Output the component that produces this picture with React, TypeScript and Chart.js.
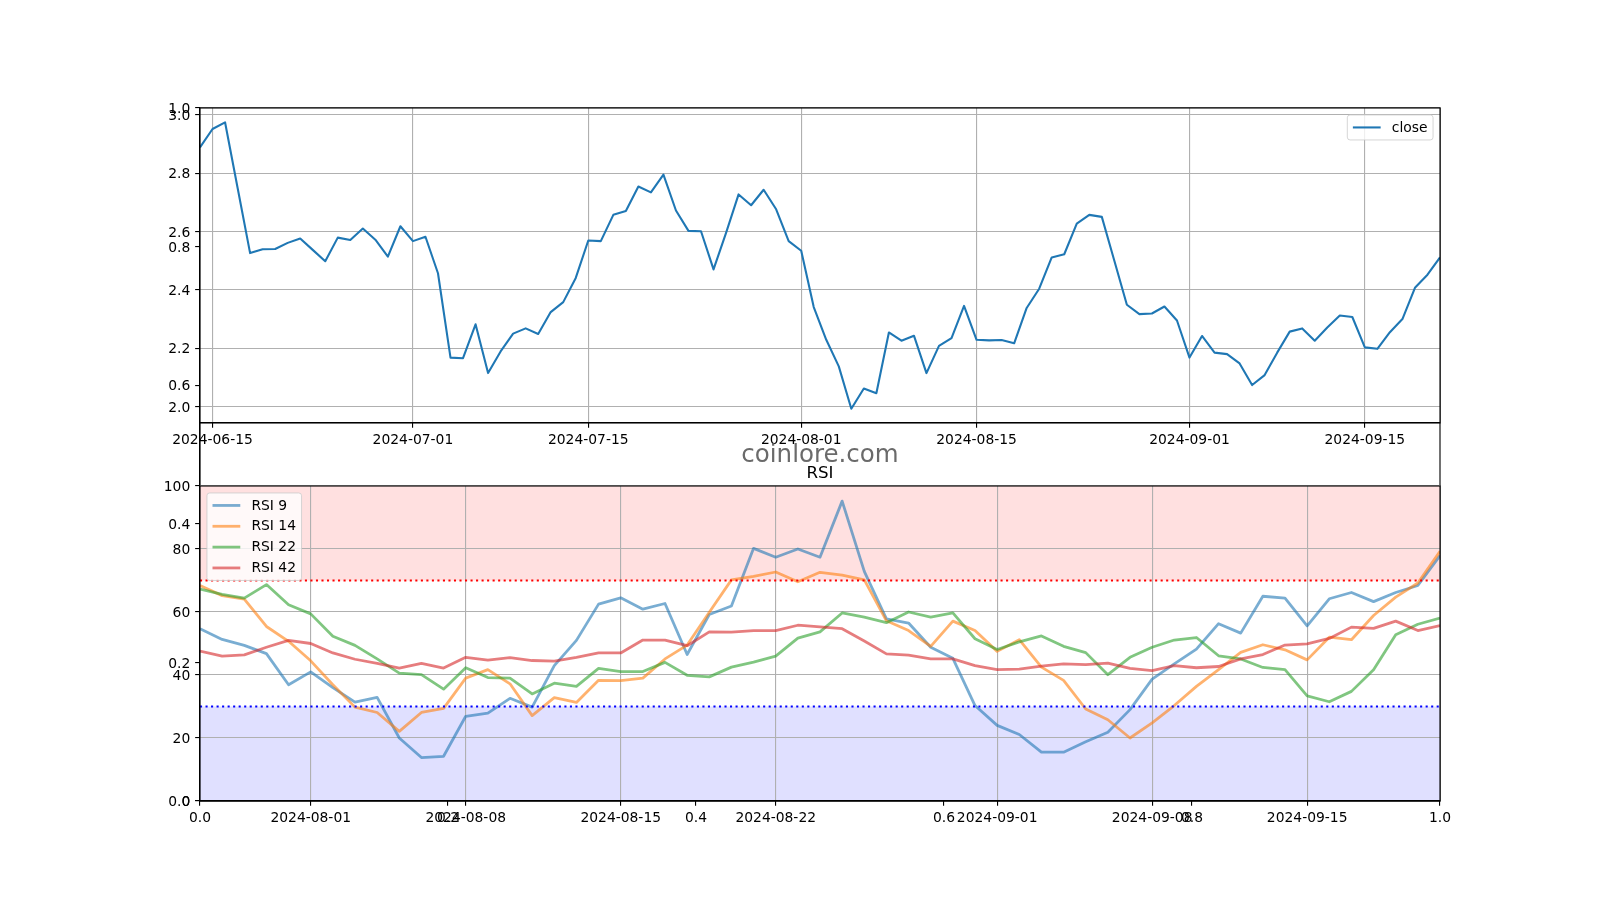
import React, { useEffect, useRef } from 'react';
import { Chart, registerables } from 'chart.js';

Chart.register(...registerables);

// ---------------- data ----------------
const priceStartDate = '2024-06-14';
const closePrices = [
  2.888, 2.951, 2.974, 2.75, 2.526, 2.539, 2.540, 2.561, 2.576, 2.537,
  2.498, 2.579, 2.571, 2.610, 2.572, 2.514, 2.618, 2.567, 2.582, 2.457,
  2.168, 2.166, 2.282, 2.115, 2.189, 2.250, 2.268, 2.249, 2.324, 2.358,
  2.441, 2.569, 2.567, 2.657, 2.670, 2.754, 2.734, 2.795, 2.672, 2.602,
  2.601, 2.470, 2.595, 2.727, 2.690, 2.743, 2.676, 2.567, 2.534, 2.341,
  2.229, 2.138, 1.993, 2.062, 2.046, 2.254, 2.226, 2.243, 2.115, 2.208,
  2.235, 2.345, 2.229, 2.227, 2.228, 2.217, 2.338, 2.404, 2.511, 2.522,
  2.627, 2.657, 2.650, 2.500, 2.349, 2.317, 2.319, 2.343, 2.295, 2.168,
  2.242, 2.185, 2.180, 2.148, 2.074, 2.108, 2.185, 2.257, 2.268, 2.226,
  2.271, 2.312, 2.307, 2.203, 2.198, 2.255, 2.300, 2.407, 2.452, 2.511,
];
const priceDateTicks = ['2024-06-15', '2024-07-01', '2024-07-15', '2024-08-01', '2024-08-15', '2024-09-01', '2024-09-15'];
const priceValueTicks = [2.0, 2.2, 2.4, 2.6, 2.8, 3.0];

const rsiStartDate = '2024-07-27';
const rsi9 = [
  54.7, 51.3, 49.4, 46.8, 36.9, 41.0, 36.0, 31.4, 32.9, 20.0, 13.8, 14.2, 26.9, 27.9, 32.6, 29.8, 43.0, 51.0, 62.5, 64.5, 60.9,
  62.7, 46.5, 59.2, 61.9, 80.2, 77.4, 80.0, 77.4, 95.2, 72.9, 57.8, 56.5, 48.8, 45.3, 30.3, 24.0, 21.1, 15.5, 15.5, 18.8, 21.8, 29.0,
  38.7, 43.5, 48.2, 56.3, 53.3, 65.0, 64.4, 55.6, 64.2, 66.2, 63.3, 66.2, 68.4, 77.9,
];
const rsi14 = [
  68.4, 65.2, 64.1, 55.4, 50.7, 44.5, 36.9, 29.8, 28.1, 22.1, 28.1, 29.4, 39.0, 41.7, 37.2, 27.1, 32.8, 31.3, 38.3, 38.2, 39.0,
  45.1, 49.5, 59.9, 70.2, 71.3, 72.7, 69.6, 72.6, 71.7, 70.2, 57.2, 54.1, 49.1, 57.1, 54.1, 47.5, 51.2, 42.5, 38.3, 29.2, 25.8, 20.0,
  24.8, 30.3, 36.4, 41.7, 47.2, 49.6, 48.0, 44.8, 52.0, 51.2, 58.9, 64.7, 69.2, 79.3,
];
const rsi22 = [
  67.3, 65.6, 64.4, 68.7, 62.3, 59.4, 52.3, 49.4, 45.1, 40.6, 40.1, 35.5, 42.3, 39.2, 39.0, 34.0, 37.4, 36.4, 42.1, 41.1, 41.1,
  44.0, 39.9, 39.4, 42.5, 44.1, 46.0, 51.7, 53.7, 59.7, 58.4, 56.6, 60.0, 58.4, 59.7, 51.5, 48.1, 50.5, 52.4, 49.1, 47.1, 40.1, 45.6,
  48.8, 51.1, 51.9, 46.1, 45.1, 42.4, 41.7, 33.4, 31.5, 34.8, 41.7, 52.8, 56.1, 58.1,
];
const rsi42 = [
  47.6, 46.0, 46.4, 48.8, 51.0, 50.0, 47.0, 45.0, 43.7, 42.2, 43.7, 42.2, 45.6, 44.7, 45.5, 44.6, 44.4, 45.6, 47.0, 47.0, 51.1,
  51.1, 49.3, 53.7, 53.6, 54.1, 54.1, 55.8, 55.3, 54.7, 50.8, 46.7, 46.3, 45.1, 45.1, 43.0, 41.7, 41.9, 42.8, 43.5, 43.3, 43.8, 42.1,
  41.4, 43.0, 42.3, 42.7, 45.1, 46.5, 49.5, 49.9, 51.6, 55.2, 54.8, 57.1, 54.1, 55.7,
];
const rsiLabels = ['RSI 9', 'RSI 14', 'RSI 22', 'RSI 42'];
const rsiDateTicks = ['2024-08-01', '2024-08-08', '2024-08-15', '2024-08-22', '2024-09-01', '2024-09-08', '2024-09-15'];
const rsiValueTicks = [0, 20, 40, 60, 80, 100];
const rsiRange = [0, 100];
const rsiOverbought = 70;
const rsiOversold = 30;

const overlayTicks = [0, 0.2, 0.4, 0.6, 0.8, 1.0];

const watermarkText = 'coinlore.com';
const rsiTitle = 'RSI';

// ---------------- helpers ----------------
const DAY_MS = 86400000;
const toDay = (s: string) => {
  const [y, m, d] = s.split('-').map(Number);
  return Date.UTC(y, m - 1, d) / DAY_MS;
};
const fmtDay = (v: number) => new Date(Math.round(v) * DAY_MS).toISOString().slice(0, 10);
const toPoints = (start: string, values: number[]) => values.map((y, i) => ({ x: toDay(start) + i, y }));

// ---------------- layout / style ----------------
const W = 1600;
const H = 900;
const PLOT_L = 200;
const PLOT_R = 1440;
const PRICE_T = 108;
const PRICE_B = 423;
const RSI_T = 486;
const RSI_B = 801;
const PT = 100 / 72;
const FONT_SIZE = 10 * PT;
const FAMILY = "'DejaVu Sans', sans-serif";
const TICK_LEN = 3.5 * PT;
const TICK_PAD = 3.5 * PT;
const SPINE_W = 0.8 * PT;

const C_BLUE = '#1f77b4';
const RSI_COLORS = ['rgba(31,119,180,0.6)', 'rgba(255,127,14,0.6)', 'rgba(44,160,44,0.6)', 'rgba(214,39,40,0.6)'];

Chart.defaults.font.family = FAMILY;
Chart.defaults.font.size = FONT_SIZE;
Chart.defaults.color = '#000';

function axisOpts(showGrid: boolean, isY: boolean) {
  return {
    grid: {
      display: true,
      drawOnChartArea: showGrid,
      color: '#b0b0b0',
      lineWidth: SPINE_W,
      tickColor: '#000',
      tickWidth: SPINE_W,
      tickLength: TICK_LEN,
      drawTicks: true,
    },
    border: { display: true, color: '#000', width: SPINE_W },
    ticks: {
      padding: isY ? TICK_PAD : TICK_PAD - 1,
      labelOffset: isY ? 1.5 : 0,
      color: '#000',
      font: { family: FAMILY, size: FONT_SIZE },
      autoSkip: false,
      maxRotation: 0,
      minRotation: 0,
    },
  };
}

function makeScales(
  top: number,
  bottom: number,
  x: { min: number; max: number; ticks: number[]; fmt: (v: number) => string; grid: boolean },
  y: { min: number; max: number; ticks: number[]; fmt: (v: number) => string; grid: boolean },
) {
  const xa: any = axisOpts(x.grid, false);
  const ya: any = axisOpts(y.grid, true);
  return {
    layout: { padding: { left: 0, top, right: W - PLOT_R, bottom: 0 } },
    scales: {
      x: {
        type: 'linear',
        position: 'bottom',
        min: x.min,
        max: x.max,
        ...xa,
        ticks: { ...xa.ticks, callback: (v: number) => x.fmt(v) },
        afterBuildTicks: (s: any) => { s.ticks = x.ticks.map((v) => ({ value: v })); },
        afterFit: (s: any) => { s.height = H - bottom; },
      },
      y: {
        type: 'linear',
        position: 'left',
        min: y.min,
        max: y.max,
        ...ya,
        ticks: { ...ya.ticks, callback: (v: number) => y.fmt(v) },
        afterBuildTicks: (s: any) => { s.ticks = y.ticks.map((v) => ({ value: v })); },
        afterFit: (s: any) => { s.width = PLOT_L; },
      },
    },
  };
}

function drawFrame(chart: any) {
  const { ctx, chartArea: a } = chart;
  ctx.save();
  ctx.strokeStyle = '#000';
  ctx.lineWidth = SPINE_W;
  ctx.strokeRect(a.left, a.top, a.right - a.left, a.bottom - a.top);
  ctx.restore();
}

function drawLegend(chart: any, items: { label: string; color: string; width: number }[], corner: 'ul' | 'ur') {
  const { ctx, chartArea: a } = chart;
  const f = FONT_SIZE;
  const bp = 0.4 * f, ls = 0.5 * f, hl = 2 * f, htp = 0.8 * f, bap = 0.5 * f;
  ctx.save();
  ctx.font = `${f}px ${FAMILY}`;
  const tw = Math.max(...items.map((it) => ctx.measureText(it.label).width));
  const rowH = f;
  const w = 2 * bp + hl + htp + tw;
  const h = 2 * bp + items.length * rowH + (items.length - 1) * ls;
  const x0 = corner === 'ul' ? a.left + bap : a.right - bap - w;
  const y0 = a.top + bap;
  const r = 0.2 * f;
  ctx.beginPath();
  ctx.moveTo(x0 + r, y0);
  ctx.lineTo(x0 + w - r, y0);
  ctx.quadraticCurveTo(x0 + w, y0, x0 + w, y0 + r);
  ctx.lineTo(x0 + w, y0 + h - r);
  ctx.quadraticCurveTo(x0 + w, y0 + h, x0 + w - r, y0 + h);
  ctx.lineTo(x0 + r, y0 + h);
  ctx.quadraticCurveTo(x0, y0 + h, x0, y0 + h - r);
  ctx.lineTo(x0, y0 + r);
  ctx.quadraticCurveTo(x0, y0, x0 + r, y0);
  ctx.closePath();
  ctx.fillStyle = 'rgba(255,255,255,0.8)';
  ctx.fill();
  ctx.strokeStyle = 'rgba(204,204,204,0.8)';
  ctx.lineWidth = 1;
  ctx.stroke();
  items.forEach((it, i) => {
    const cy = y0 + bp + i * (rowH + ls) + rowH / 2;
    ctx.beginPath();
    ctx.moveTo(x0 + bp, cy);
    ctx.lineTo(x0 + bp + hl, cy);
    ctx.strokeStyle = it.color;
    ctx.lineWidth = it.width;
    ctx.stroke();
    ctx.fillStyle = '#000';
    ctx.textBaseline = 'middle';
    ctx.textAlign = 'left';
    ctx.fillText(it.label, x0 + bp + hl + htp, cy + 0.5);
  });
  ctx.restore();
}

function whiteArea(chart: any) {
  const { ctx, chartArea: a } = chart;
  ctx.save();
  ctx.fillStyle = '#fff';
  ctx.fillRect(a.left, a.top, a.right - a.left, a.bottom - a.top);
  ctx.restore();
}

// ---------------- component ----------------
export default function App() {
  const bgRef = useRef<HTMLCanvasElement>(null);
  const priceRef = useRef<HTMLCanvasElement>(null);
  const rsiRef = useRef<HTMLCanvasElement>(null);

  useEffect(() => {
    const charts: Chart[] = [];

    // background (figure-level) axes 0..1
    const bgCfg = makeScales(
      PRICE_T,
      RSI_B,
      { min: 0, max: 1, ticks: overlayTicks, fmt: (v) => v.toFixed(1), grid: false },
      { min: 0, max: 1, ticks: overlayTicks, fmt: (v) => v.toFixed(1), grid: false },
    );
    charts.push(
      new Chart(bgRef.current!, {
        type: 'line',
        data: { datasets: [] },
        options: {
          responsive: false,
          animation: false,
          devicePixelRatio: 1,
          layout: bgCfg.layout,
          scales: bgCfg.scales as any,
          plugins: { legend: { display: false }, tooltip: { enabled: false } },
        },
        plugins: [{ id: 'bgframe', afterDraw: (c: any) => drawFrame(c) }],
      } as any),
    );

    // price chart
    const pDays = closePrices.map((_, i) => toDay(priceStartDate) + i);
    const pMin = Math.min(...closePrices);
    const pMax = Math.max(...closePrices);
    const pPad = (pMax - pMin) * 0.05;
    const priceCfg = makeScales(
      PRICE_T,
      PRICE_B,
      { min: pDays[0], max: pDays[pDays.length - 1], ticks: priceDateTicks.map(toDay), fmt: fmtDay, grid: true },
      { min: pMin - pPad, max: pMax + pPad, ticks: priceValueTicks, fmt: (v) => v.toFixed(1), grid: true },
    );
    charts.push(
      new Chart(priceRef.current!, {
        type: 'line',
        data: {
          datasets: [
            {
              label: 'close',
              data: toPoints(priceStartDate, closePrices),
              borderColor: C_BLUE,
              borderWidth: 1.5 * PT,
              pointRadius: 0,
              tension: 0,
              fill: false,
              borderJoinStyle: 'round',
            },
          ],
        },
        options: {
          responsive: false,
          animation: false,
          devicePixelRatio: 1,
          layout: priceCfg.layout,
          scales: priceCfg.scales as any,
          plugins: { legend: { display: false }, tooltip: { enabled: false } },
        },
        plugins: [
          {
            id: 'pdeco',
            beforeDraw: (c: any) => whiteArea(c),
            afterDatasetsDraw: (c: any) => drawFrame(c),
            afterDraw: (c: any) =>
              drawLegend(c, c.data.datasets.map((d: any) => ({ label: d.label, color: d.borderColor, width: d.borderWidth })), 'ur'),
          },
        ],
      } as any),
    );

    // RSI chart
    const rDays = rsi9.map((_, i) => toDay(rsiStartDate) + i);
    const rFirst = rDays[0];
    const rLast = rDays[rDays.length - 1];
    const rsiCfg = makeScales(
      RSI_T,
      RSI_B,
      { min: rFirst, max: rLast, ticks: rsiDateTicks.map(toDay), fmt: fmtDay, grid: true },
      { min: rsiRange[0], max: rsiRange[1], ticks: rsiValueTicks, fmt: (v) => String(v), grid: true },
    );
    const series = [rsi9, rsi14, rsi22, rsi42];
    const rsiSets: any[] = series.map((vals, k) => ({
      label: rsiLabels[k],
      data: toPoints(rsiStartDate, vals),
      borderColor: RSI_COLORS[k],
      borderWidth: 2 * PT,
      pointRadius: 0,
      tension: 0,
      fill: false,
      borderJoinStyle: 'round',
      order: series.length - k + 1,
      isRsi: true,
    }));
    const levelSet = (lv: number, color: string) => ({
      label: `level ${lv}`,
      data: [{ x: rFirst, y: lv }, { x: rLast, y: lv }],
      borderColor: color,
      borderWidth: 1.5 * PT,
      borderDash: [1.5 * PT, 2.475 * PT],
      pointRadius: 0,
      tension: 0,
      fill: false,
      order: 0,
    });
    charts.push(
      new Chart(rsiRef.current!, {
        type: 'line',
        data: { datasets: [...rsiSets, levelSet(rsiOverbought, '#ff0000'), levelSet(rsiOversold, '#0000ff')] },
        options: {
          responsive: false,
          animation: false,
          devicePixelRatio: 1,
          layout: rsiCfg.layout,
          scales: rsiCfg.scales as any,
          plugins: { legend: { display: false }, tooltip: { enabled: false } },
        },
        plugins: [
          {
            id: 'rdeco',
            beforeDraw: (c: any) => {
              whiteArea(c);
              const { ctx, chartArea: a } = c;
              const ys = c.scales.y;
              const band = (lo: number, hi: number, color: string) => {
                const t = ys.getPixelForValue(hi);
                const b = ys.getPixelForValue(lo);
                ctx.save();
                ctx.fillStyle = color;
                ctx.fillRect(a.left, t, a.right - a.left, b - t);
                ctx.restore();
              };
              band(rsiOverbought, rsiRange[1], 'rgba(255,0,0,0.12)');
              band(rsiRange[0], rsiOversold, 'rgba(0,0,255,0.12)');
            },
            afterDatasetsDraw: (c: any) => drawFrame(c),
            afterDraw: (c: any) => {
              const { ctx, chartArea: a } = c;
              const cx = (a.left + a.right) / 2;
              ctx.save();
              ctx.textAlign = 'center';
              ctx.textBaseline = 'alphabetic';
              ctx.fillStyle = '#000';
              ctx.font = `${12 * PT}px ${FAMILY}`;
              ctx.fillText(rsiTitle, cx, a.top - 6 * PT);
              ctx.fillStyle = 'rgba(90,90,90,0.9)';
              ctx.font = `${24.5}px ${FAMILY}`;
              ctx.fillText(watermarkText, cx, 462);
              ctx.restore();
              drawLegend(
                c,
                c.data.datasets.filter((d: any) => d.isRsi).map((d: any) => ({ label: d.label, color: d.borderColor, width: d.borderWidth })),
                'ul',
              );
            },
          },
        ],
      } as any),
    );

    return () => charts.forEach((c) => c.destroy());
  }, []);

  const cs: React.CSSProperties = { position: 'absolute', left: 0, top: 0, width: W, height: H };
  return (
    <div style={{ position: 'absolute', left: 0, top: 0, width: W, height: H, background: '#fff' }}>
      <canvas ref={bgRef} width={W} height={H} style={cs} />
      <canvas ref={priceRef} width={W} height={H} style={cs} />
      <canvas ref={rsiRef} width={W} height={H} style={cs} />
    </div>
  );
}
